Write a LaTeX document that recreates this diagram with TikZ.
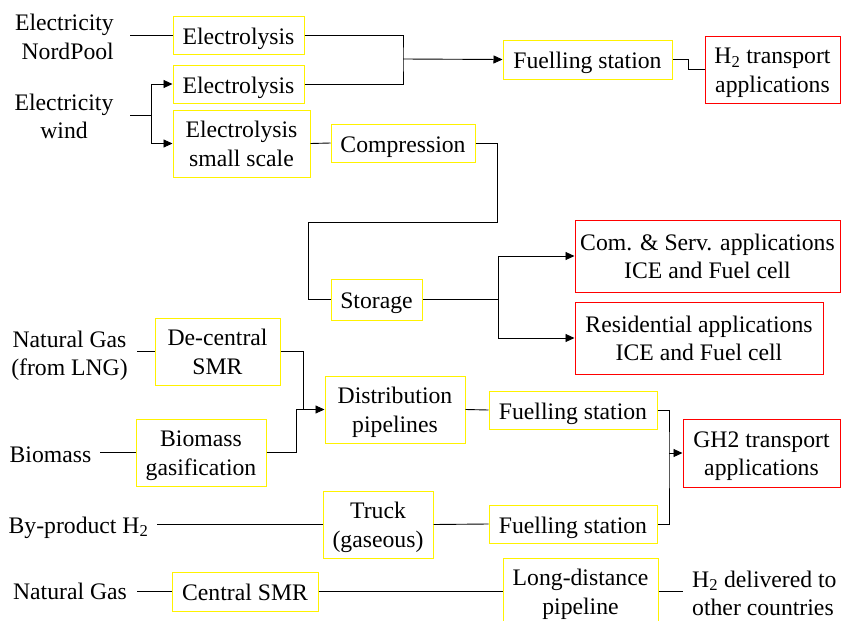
\documentclass[tikz,border=0pt]{standalone}
\usepackage{fontspec}
\setmainfont{Liberation Serif}
\usetikzlibrary{arrows.meta}
\begin{document}
\begin{tikzpicture}[x=1pt,y=-1pt,
  every node/.style={font=\fontsize{23.7}{28.5}\selectfont},
  one/.style={text height=18pt,text depth=0pt},
  two/.style={text height=45pt,text depth=0pt},
  ybox/.style={draw=yellow,line width=1pt,inner sep=0pt,align=center},
  rbox/.style={draw=red,line width=1pt,inner sep=0pt,align=center},
  lbl/.style={inner sep=0pt,align=center},
  conn/.style={line width=0.9pt},
  arr/.style={conn,-{Triangle[length=9pt,width=8pt]}}]
\useasboundingbox (0,0) rectangle (841,621);
\fill[white] (0,0) rectangle (841,621);

% free texts
\node[lbl,two,anchor=east,align=right] (elnp) at (114,37) {Electricity\\NordPool};
\node[lbl,two] (elw) at (64,116) {Electricity\\wind};
\node[lbl,two] (nglng) at (69.5,353) {Natural Gas\\(from LNG)};
\node[lbl,one] (biom) at (50.5,453) {Biomass};
\node[lbl,one] (byp) at (78.5,524) {By-product H\textsubscript{2}};
\node[lbl,one] (ng) at (70,590) {Natural Gas};
\node[lbl,two,anchor=west,align=left] (h2d) at (692,593) {H\textsubscript{2} delivered to\\other countries};

% boxes
\node[ybox,one,minimum width=131pt,minimum height=38pt] (e1) at (238.5,35) {Electrolysis};
\node[ybox,one,minimum width=131pt,minimum height=38pt] (e2) at (238.5,84) {Electrolysis};
\node[ybox,two,minimum width=137pt,minimum height=67pt] (e3) at (241.5,143.5) {Electrolysis\\small scale};
\node[ybox,one,minimum width=144pt,minimum height=38pt] (comp) at (403,143) {Compression};
\node[ybox,one,minimum width=169pt,minimum height=39pt] (fs0) at (587.5,59.5) {Fuelling station};
\node[rbox,two,minimum width=135pt,minimum height=67pt] (h2t) at (772.5,69.5) {H\textsubscript{2} transport\\applications};
\node[ybox,one,minimum width=91pt,minimum height=41pt] (stor) at (376.5,299.5) {Storage};
\node[rbox,two,minimum width=265pt,minimum height=72pt] (com) at (707.5,256) {Com. \& Serv. applications\\ICE and Fuel cell};
\node[rbox,two,minimum width=248pt,minimum height=72pt] (res) at (699,338) {Residential applications\\ICE and Fuel cell};
\node[ybox,two,minimum width=125pt,minimum height=67pt] (dec) at (217.5,351.5) {De-central\\SMR};
\node[ybox,two,minimum width=130pt,minimum height=67pt] (bio) at (201,452.5) {Biomass\\gasification};
\node[ybox,two,minimum width=140pt,minimum height=67pt] (dist) at (395,409.5) {Distribution\\pipelines};
\node[ybox,two,minimum width=110pt,minimum height=67pt] (truck) at (378,524.5) {Truck\\(gaseous)};
\node[ybox,one,minimum width=168pt,minimum height=38pt] (fs1) at (573,410) {Fuelling station};
\node[ybox,one,minimum width=168pt,minimum height=38pt] (fs2) at (573,524) {Fuelling station};
\node[rbox,two,minimum width=157pt,minimum height=68pt] (gh2) at (761.5,453) {GH2 transport\\applications};
\node[ybox,one,minimum width=146pt,minimum height=39pt] (csmr) at (245,591.5) {Central SMR};
\node[ybox,two,minimum width=155pt,minimum height=67pt] (ldp) at (580.5,591.5) {Long-distance\\pipeline};

% connector coordinates
\coordinate (snp) at (130,35);
\coordinate (sw) at (130,115);
\coordinate (jw) at (151,115);
\coordinate (j1) at (403,59);
\coordinate (js) at (498,299.5);
\coordinate (slng) at (137,351.5);
\coordinate (sbio) at (100,452.5);
\coordinate (jd) at (296,409.5);
\coordinate (sbyp) at (157,524.5);
\coordinate (sng) at (137,591.5);
\coordinate (eldp) at (683,591.5);
\coordinate (jg) at (669,453);

% connectors
\draw[conn] (snp) -- (e1.west);
\draw[conn] (sw) -- (jw);
\draw[arr] (jw) |- (e2.west);
\draw[arr] (jw) |- (e3.west);
\draw[conn] (e1.east) -| (j1) |- (e2.east);
\draw[arr] (j1) -- (fs0.west);
\draw[conn] (fs0.east) -- ++(16,0) |- (h2t.west);
\draw[conn] (e3.east) -- (comp.west);
\draw[conn] (comp.east) -- ++(22,0) -- ++(0,79) -| ([xshift=-22pt]stor.west) -- (stor.west);
\draw[conn] (stor.east) -- (js);
\draw[arr] (js) |- (com.west);
\draw[arr] (js) |- (res.west);
\draw[conn] (slng) -- (dec.west);
\draw[conn] (dec.east) -| ([xshift=7pt]jd);
\draw[conn] (sbio) -- (bio.west);
\draw[arr] (bio.east) -| (jd) -- (dist.west);
\draw[conn] (dist.east) -- (fs1.west);
\draw[conn] (sbyp) -- (truck.west);
\draw[conn] (truck.east) -- (fs2.west);
\draw[conn] (fs1.east) -| (jg) |- (fs2.east);
\draw[arr] (jg) -- (gh2.west);
\draw[conn] (sng) -- (csmr.west);
\draw[conn] (csmr.east) -- (ldp.west);
\draw[conn] (ldp.east) -- (eldp);
\end{tikzpicture}
\end{document}
